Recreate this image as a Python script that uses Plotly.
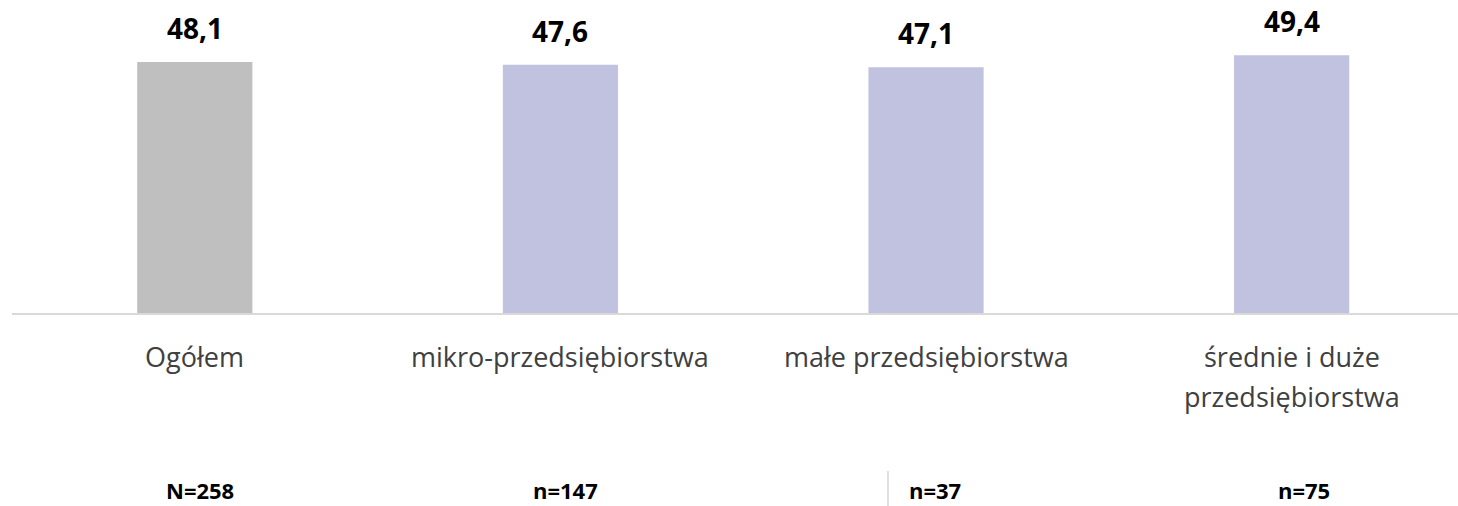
import plotly.graph_objects as go

# dane z wykresu
categories = ["Ogółem", "mikro-przedsiębiorstwa", "małe przedsiębiorstwa",
              "średnie i duże<br>przedsiębiorstwa"]
values = [48.1, 47.6, 47.1, 49.4]
sample_sizes = ["N=258", "n=147", "n=37", "n=75"]

bar_colors = ["#bfbfbf", "#c1c1e0", "#c1c1e0", "#c1c1e0"]
n_xshift = [5, 5, 9, 12]
FONT = "Open Sans"

fig = go.Figure(
    go.Bar(
        x=categories,
        y=values,
        width=0.315,
        marker=dict(color=bar_colors, line=dict(width=0)),
        hoverinfo="skip",
    )
)

annotations = []
for cat, val in zip(categories, values):
    # wartość nad słupkiem (przecinek dziesiętny)
    annotations.append(dict(
        x=cat, y=val, xref="x", yref="y",
        text="<b>" + f"{val:.1f}".replace(".", ",") + "</b>",
        showarrow=False, yanchor="middle", yshift=34,
        font=dict(family=FONT, size=28, color="#000000"),
    ))
    # etykiety kategorii pod osią, każda linia osobno
    for i, line in enumerate(cat.split("<br>")):
        annotations.append(dict(
            x=cat, y=0, xref="x", yref="paper",
            text=line, showarrow=False, yanchor="middle",
            yshift=-43 - 40 * i,
            font=dict(family=FONT, size=27, color="#404040"),
        ))

for cat, n, dx in zip(categories, sample_sizes, n_xshift):
    annotations.append(dict(
        x=cat, y=0, xref="x", yref="paper",
        text=f"<b>{n}</b>", showarrow=False, yanchor="middle",
        yshift=-177, xshift=dx,
        font=dict(family=FONT, size=22, color="#000000"),
    ))

fig.update_layout(
    width=1458, height=506,
    margin=dict(l=12, r=0, t=0, b=193),
    paper_bgcolor="white", plot_bgcolor="white",
    showlegend=False,
    annotations=annotations,
    xaxis=dict(
        range=[-0.5, 3.455],
        showticklabels=False, ticks="",
        showline=True, linecolor="#d9d9d9", linewidth=2,
        showgrid=False, zeroline=False, fixedrange=True,
    ),
    yaxis=dict(
        range=[0, 60], visible=False, showgrid=False, zeroline=False,
        fixedrange=True,
    ),
    shapes=[dict(
        type="line", xref="paper", yref="paper",
        x0=0.6058, x1=0.6058, y0=-0.505, y1=-0.617,
        line=dict(color="#bfbfbf", width=1),
    )],
)

# bez domyślnego marginesu strony (8px), żeby wykres zaczynał się w (0,0)
fig.write_html("out.html", config={"displayModeBar": False},
               post_script="document.body.style.margin='0';")
